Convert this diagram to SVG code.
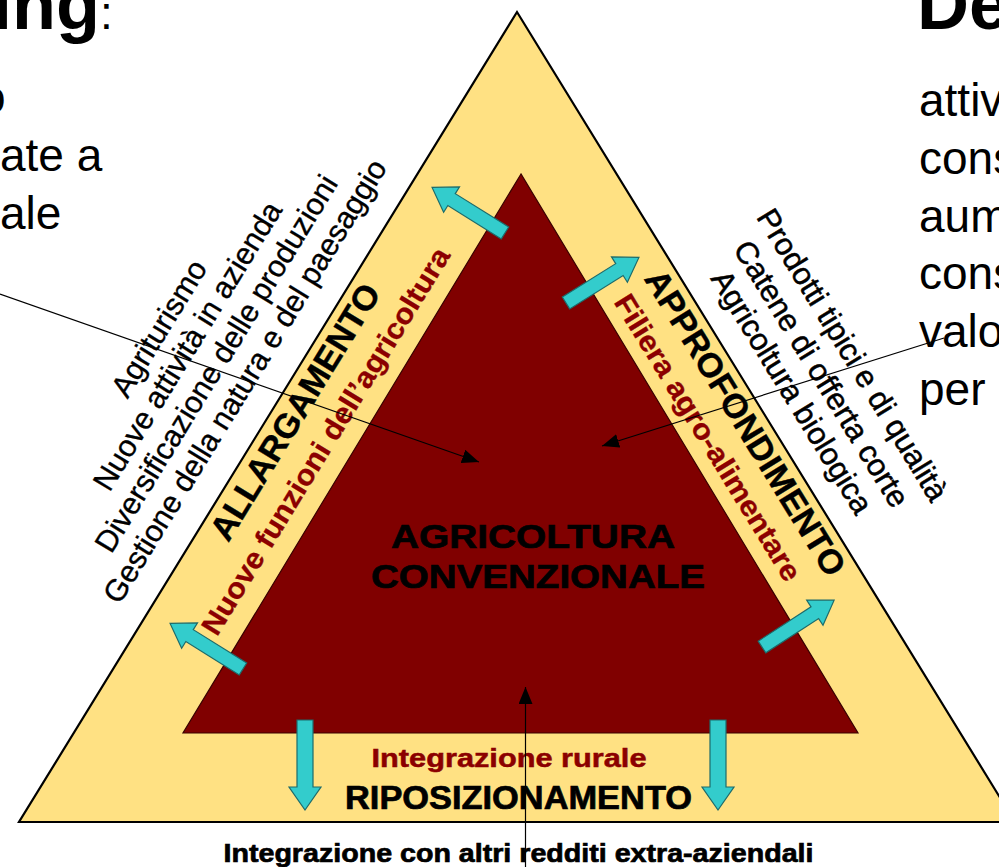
<svg xmlns="http://www.w3.org/2000/svg" width="999" height="867" viewBox="0 0 999 867">
<style>
  .body{font-family:"Liberation Sans",Arial,sans-serif;font-size:46px;fill:#000}
  .title{font-family:"Liberation Sans",Arial,sans-serif;font-size:72px;font-weight:bold;fill:#000}
  .list{font-family:"Liberation Sans",Arial,sans-serif;font-size:30.5px;fill:#000;stroke:#000;stroke-width:0.35;text-anchor:middle}
  .listR{font-family:"Liberation Sans",Arial,sans-serif;font-size:31px;fill:#000;stroke:#000;stroke-width:0.5;text-anchor:middle}
  .band{font-family:"Liberation Sans",Arial,sans-serif;font-weight:bold;fill:#000;stroke:#000;stroke-width:0.4;text-anchor:middle}
  .bandRed{font-family:"Liberation Sans",Arial,sans-serif;font-weight:bold;fill:#8B0000;stroke:#8B0000;stroke-width:0.3;text-anchor:middle}
  .center{font-family:"Liberation Sans",Arial,sans-serif;font-weight:bold;fill:#000;stroke:#000;stroke-width:0.7;text-anchor:middle}
  .centerRed{font-family:"Liberation Sans",Arial,sans-serif;font-weight:bold;fill:#8B0000;stroke:#8B0000;stroke-width:0.5;text-anchor:middle}
  .outer{fill:#FFE183;stroke:#000;stroke-width:2.2;stroke-linejoin:miter}
  .inner{fill:#800000;stroke:#3a0000;stroke-width:1.2}
  .cyan{fill:#33CCCC;stroke:#1d6b6b;stroke-width:1.2;stroke-linejoin:miter}
  .conn{fill:none;stroke:#000;stroke-width:1.2;marker-end:url(#tip)}
</style>
<defs>
  <marker id="tip" markerUnits="userSpaceOnUse" markerWidth="18" markerHeight="14" refX="17" refY="7" orient="auto">
    <path d="M0,0 L17,7 L0,14 Z" fill="#000"/>
  </marker>
  <path id="arrDiag" d="M0,-7 H63 V-15 L86,0 L63,15 V7 H0 Z"/>
  <path id="arrDown" d="M0,-8 H67 V-16 L90,0 L67,16 V8 H0 Z"/>
</defs>

<rect x="0" y="0" width="999" height="867" fill="#fff"/>

<g id="header-left">
  <text class="title" x="-8" y="29">ing<tspan font-size="46" font-weight="normal">:</tspan></text>
  <text class="body" x="-20" y="113">o</text>
  <text class="body" x="0" y="171">ate a</text>
  <text class="body" x="0" y="229">ale</text>
</g>

<g id="header-right">
  <text class="title" x="917" y="29">De</text>
  <text class="body" x="919" y="116">attiv</text>
  <text class="body" x="919" y="174">cons</text>
  <text class="body" x="919" y="232">aum</text>
  <text class="body" x="919" y="289">cons</text>
  <text class="body" x="919" y="347">valo</text>
  <text class="body" x="919" y="405">per</text>
</g>

<g id="outer-triangle">
  <polygon class="outer" points="517,12 19,822 1015,822"/>
</g>

<g id="core">
  <polygon class="inner" points="521,174 183,733 858,733"/>
  <text class="center" x="533" y="548" font-size="33" textLength="284" lengthAdjust="spacingAndGlyphs">AGRICOLTURA</text>
  <text class="center" x="538" y="588" font-size="33" textLength="334" lengthAdjust="spacingAndGlyphs">CONVENZIONALE</text>
</g>

<g id="allargamento" transform="rotate(-58.5)">
  <text class="band" x="-197" y="478.5" font-size="34" textLength="294" lengthAdjust="spacingAndGlyphs">ALLARGAMENTO</text>
  <text class="bandRed" x="-206" y="518" font-size="29" textLength="448" lengthAdjust="spacingAndGlyphs">Nuove funzioni dell’agricoltura</text>
</g>

<g id="allargamento-list" transform="rotate(-58.5)">
  <text class="list" x="-197" y="317.5">Agriturismo</text>
  <text class="list" x="-197" y="351">Nuove attività in azienda</text>
  <text class="list" x="-197" y="384.7">Diversificazione delle produzioni</text>
  <text class="list" x="-197" y="418.3">Gestione della natura e del paesaggio</text>
</g>

<g id="approfondimento" transform="rotate(58.5)">
  <text class="band" x="750" y="-403" font-size="34" textLength="352" lengthAdjust="spacingAndGlyphs">APPROFONDIMENTO</text>
  <text class="bandRed" x="743" y="-365" font-size="29" textLength="330" lengthAdjust="spacingAndGlyphs">Filiera agro-alimentare</text>
</g>

<g id="approfondimento-list" transform="rotate(58.5)">
  <text class="listR" x="748" y="-531">Prodotti tipici e di qualità</text>
  <text class="listR" x="748" y="-494.5">Catene di offerta corte</text>
  <text class="listR" x="748" y="-460">Agricoltura biologica</text>
</g>

<g id="riposizionamento">
  <text class="centerRed" x="509" y="767" font-size="26" textLength="275" lengthAdjust="spacingAndGlyphs">Integrazione rurale</text>
  <text class="center" x="518.5" y="809" font-size="32.5" textLength="347" lengthAdjust="spacingAndGlyphs">RIPOSIZIONAMENTO</text>
</g>

<g id="riposizionamento-list">
  <text class="center" x="518.5" y="862" font-size="26.5" textLength="590" lengthAdjust="spacingAndGlyphs">Integrazione con altri redditi extra-aziendali</text>
</g>

<g id="direction-arrows">
  <use href="#arrDiag" class="cyan" transform="translate(505,233) rotate(212)"/>
  <use href="#arrDiag" class="cyan" transform="translate(566,303) rotate(-32)"/>
  <use href="#arrDiag" class="cyan" transform="translate(243,669) rotate(212)"/>
  <use href="#arrDiag" class="cyan" transform="translate(762,647) rotate(-33)"/>
  <use href="#arrDown" class="cyan" transform="translate(305,720) rotate(90)"/>
  <use href="#arrDown" class="cyan" transform="translate(718,720) rotate(90)"/>
</g>

<g id="connectors">
  <line class="conn" x1="0" y1="294" x2="479" y2="462"/>
  <line class="conn" x1="944" y1="338" x2="602" y2="446"/>
  <line class="conn" x1="525.5" y1="867" x2="525.5" y2="687"/>
</g>
</svg>
